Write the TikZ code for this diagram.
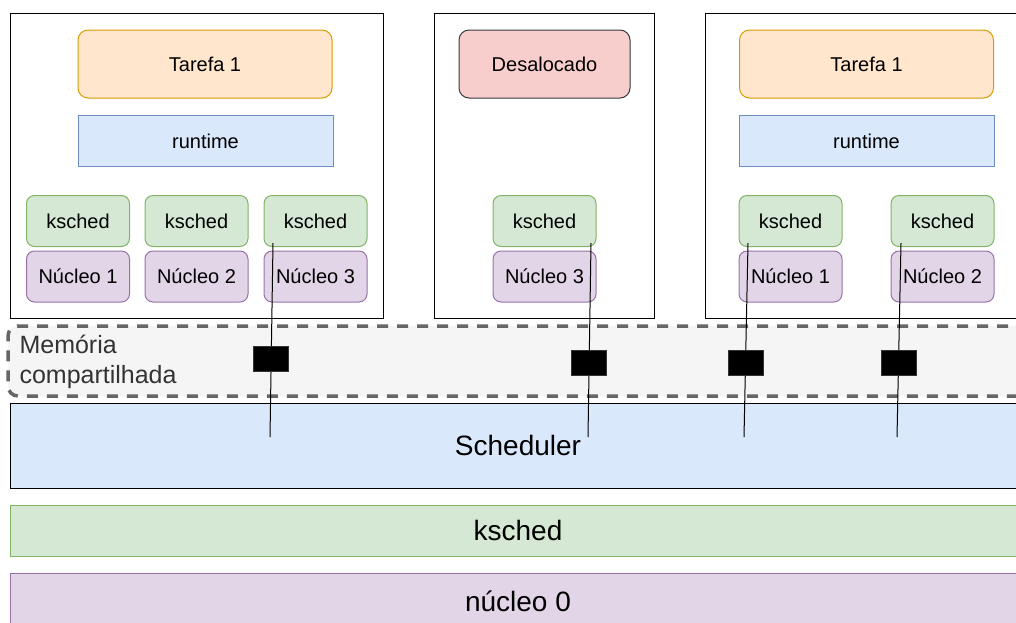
\documentclass[tikz,border=0pt]{standalone}
\usepackage{fontspec}
\setmainfont{Liberation Sans}
\usepackage{xcolor}
\usepackage{tikz}
\usetikzlibrary{arrows.meta, positioning, calc}
\definecolor{taskFill}{HTML}{FFE6CC}
\definecolor{taskLine}{HTML}{D79B00}
\definecolor{rtFill}{HTML}{DAE8FC}
\definecolor{rtLine}{HTML}{6C8EBF}
\definecolor{kschedFill}{HTML}{D5E8D4}
\definecolor{kschedLine}{HTML}{82B366}
\definecolor{coreFill}{HTML}{E1D5E7}
\definecolor{coreLine}{HTML}{9673A6}
\definecolor{freeFill}{HTML}{F8CECC}
\definecolor{freeLine}{HTML}{36393D}
\definecolor{memFill}{HTML}{F5F5F5}
\definecolor{memLine}{HTML}{666666}
\definecolor{memText}{HTML}{333333}

\begin{document}
\begin{tikzpicture}[
    x=1pt, y=-1pt,
    box/.style={draw, line width=1pt, minimum height=51pt, inner sep=0pt, align=center, font=\fontsize{20}{24}\selectfont},
    container/.style={draw=black, line width=1pt, inner sep=0pt},
    task/.style={box, rounded corners=10pt, fill=taskFill, draw=taskLine, minimum width=254pt, minimum height=68pt},
    rt/.style={box, fill=rtFill, draw=rtLine, minimum width=255pt},
    ks/.style={box, rounded corners=8pt, fill=kschedFill, draw=kschedLine, minimum width=103pt},
    core/.style={box, rounded corners=8pt, fill=coreFill, draw=coreLine, minimum width=103pt},
    layer/.style={box, minimum width=1016pt, font=\fontsize{28}{32}\selectfont},
    msg/.style={fill=black, draw=black!80, minimum width=35pt, minimum height=25pt, inner sep=0pt},
    link/.style={draw=black, line width=1pt},
]
    \clip (0,0) rectangle (1016,622);

    % Process 1
    \node[container, minimum width=373pt, minimum height=305pt] (proc1) at (196.5, 165.5) {};
    \node[task] (task1) at (205, 64) {Tarefa 1};
    \node[rt] (rt1) at (205.5, 141) {runtime};
    \node[ks] (ks11) at (78, 221) {ksched};
    \node[ks] (ks12) at (196.5, 221) {ksched};
    \node[ks] (ks13) at (315.5, 221) {ksched};
    \node[core] (core11) at (78, 276.5) {Núcleo 1};
    \node[core] (core12) at (196.5, 276.5) {Núcleo 2};
    \node[core] (core13) at (315.5, 276.5) {Núcleo 3};

    % Process 2 (freed)
    \node[container, minimum width=220pt, minimum height=305pt] (proc2) at (544, 165.5) {};
    \node[box, rounded corners=10pt, fill=freeFill, draw=freeLine, minimum width=171pt, minimum height=68pt] (freed) at (544.5, 64) {Desalocado};
    \node[ks] (ks23) at (544.5, 221) {ksched};
    \node[core] (core23) at (544.5, 276.5) {Núcleo 3};

    % Process 3
    \node[container, minimum width=330pt, minimum height=305pt] (proc3) at (870, 165.5) {};
    \node[task] (task3) at (866.5, 64) {Tarefa 1};
    \node[rt] (rt3) at (866.5, 141) {runtime};
    \node[ks] (ks31) at (790.5, 221) {ksched};
    \node[ks] (ks32) at (942.5, 221) {ksched};
    \node[core] (core31) at (790.5, 276.5) {Núcleo 1};
    \node[core] (core32) at (942.5, 276.5) {Núcleo 2};

    % Shared memory
    \node[draw=memLine, fill=memFill, line width=3.5pt, dash pattern=on 11pt off 9pt, rounded corners=10pt,
          minimum width=1030pt, minimum height=70pt, inner sep=0pt] (mem) at (523, 361) {};
    \node[anchor=west, align=left, text=memText, font=\fontsize{25}{30}\selectfont] (memlabel) at (16, 362) {Memória\\compartilhada};

    % Scheduler, ksched, core 0
    \node[layer, fill=rtFill, draw=black, minimum height=85pt] (sched) at (518, 445.5) {Scheduler};
    \node[layer, fill=kschedFill, draw=kschedLine] (ks0) at (518, 530.5) {ksched};
    \node[layer, fill=coreFill, draw=coreLine, minimum height=57pt] (core0) at (518, 601.5) {núcleo 0};

    % Links ksched -> scheduler
    \coordinate (a1) at (273, 243);
    \coordinate (b1) at (270, 437);
    \coordinate (a2) at (591, 243);
    \coordinate (b2) at (588, 437);
    \coordinate (a3) at (748, 243);
    \coordinate (b3) at (744, 437);
    \coordinate (a4) at (901, 243);
    \coordinate (b4) at (897, 437);
    \draw[link] (a1) -- (b1) node[msg, pos=0.6] (m1) {};
    \draw[link] (a2) -- (b2) node[msg, pos=0.62] (m2) {};
    \draw[link] (a3) -- (b3) node[msg, pos=0.62] (m3) {};
    \draw[link] (a4) -- (b4) node[msg, pos=0.62] (m4) {};
\end{tikzpicture}
\end{document}
